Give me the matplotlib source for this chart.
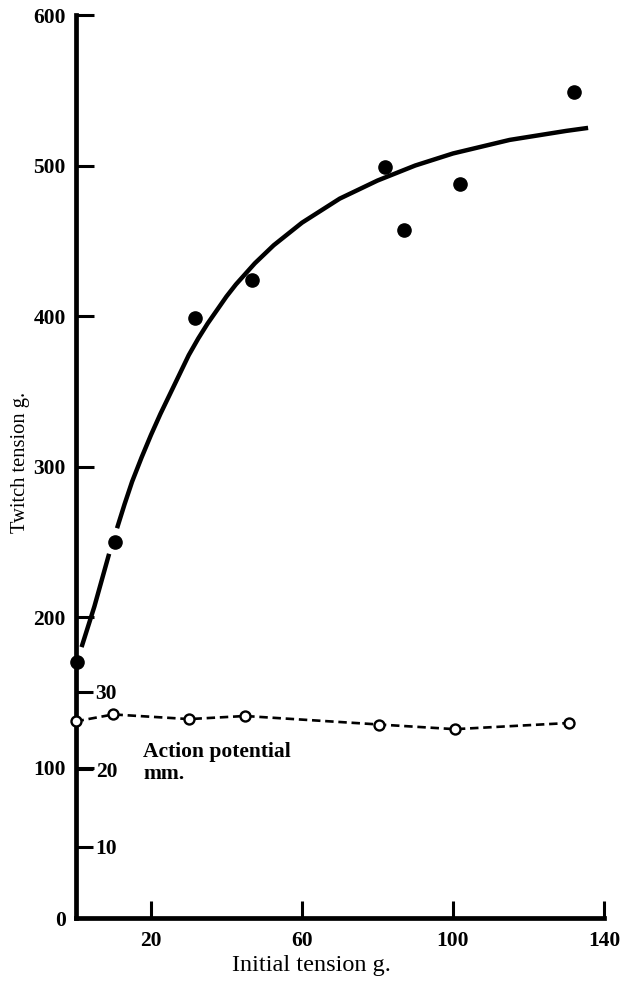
import matplotlib
matplotlib.use("Agg")
import matplotlib.pyplot as plt

plt.rcParams['font.family'] = ['Liberation Serif', 'DejaVu Serif']

# twitch tension (filled circles)
init_tension = [0.3, 10.5, 31.7, 46.8, 82.0, 87.0, 101.9, 132.1]
twitch = [170, 250, 399, 424, 499, 457, 488, 549]

# hand-drawn curve (broken round the point at 10 g)
curve_lo_x = [1.6, 5.0, 8.9]
curve_lo_y = [180, 207, 242]
curve_hi_x = [11.0, 13, 15, 17.5, 20, 22.5, 25, 27.5, 30, 32.5, 35, 37.5,
              40, 42.5, 45, 47.5, 50, 52.5, 55, 57.5, 60, 62.5, 65, 67.5,
              70, 72.5, 75, 80, 85, 90, 95, 100, 105, 110, 115, 120, 125,
              130, 135.8]
curve_hi_y = [259, 275, 290, 306, 321, 335, 348, 361, 374, 385, 395, 404,
              413, 421, 428, 435, 441, 447, 452, 457, 462, 466, 470, 474,
              478, 481, 484, 490, 495, 500, 504, 508, 511, 514, 517, 519,
              521, 523, 525]

# action potential (open circles), mm
ap_x = [0.0, 10.0, 30.1, 44.9, 80.5, 100.5, 130.8]
ap_mm = [26.2, 27.1, 26.5, 26.9, 25.8, 25.2, 26.0]

x_ticks = [20, 60, 100, 140]
y_ticks = [0, 100, 200, 300, 400, 500, 600]
mm_ticks = [10, 20, 30]


def mm_to_g(mm):
    return (mm - 20) * 5.15 + 98.7


def g_to_mm(g):
    return (g - 98.7) / 5.15 + 20


fig = plt.figure(figsize=(6.22, 9.81), dpi=100)
ax = fig.add_axes([0.1214, 0.0642, 0.8496, 0.9205])

ax.plot(curve_lo_x, curve_lo_y, color='black', lw=3.2, solid_capstyle='butt')
ax.plot(curve_hi_x, curve_hi_y, color='black', lw=3.2,
        solid_capstyle='butt', solid_joinstyle='round')
ax.plot(init_tension, twitch, 'o', color='black', ms=9.5, clip_on=False,
        zorder=5)

ax.plot(ap_x, [mm_to_g(v) for v in ap_mm], color='black', lw=1.9,
        dashes=(3.2, 1.8), marker='o', ms=7.2, mfc='white', mec='black',
        mew=1.7, clip_on=False, zorder=6)

ax.text(18, 117, 'Action potential\nmm.', fontsize=15.5, fontweight='bold',
        ha='left', va='top', linespacing=1.15)

ax.set_xlim(0, 140)
ax.set_ylim(0, 600)
ax.set_xticks(x_ticks)
ax.set_yticks(y_ticks)
for s in ['top', 'right']:
    ax.spines[s].set_visible(False)
for s in ['left', 'bottom']:
    ax.spines[s].set_linewidth(3.4)
    ax.spines[s].set_capstyle('projecting')
ax.tick_params(axis='y', direction='in', length=13, width=2.2, pad=7,
               labelsize=15.5)
ax.tick_params(axis='x', direction='in', length=12, width=2.2, pad=9,
               labelsize=15.5)
for lab in ax.get_xticklabels() + ax.get_yticklabels():
    lab.set_fontweight('bold')

sec = ax.secondary_yaxis(0.0, functions=(g_to_mm, mm_to_g))
sec.set_alignment('right')
sec.spines['right'].set_visible(False)
sec.set_yticks(mm_ticks)
sec.tick_params(axis='y', direction='out', length=12, width=2.2, pad=2.5,
                labelsize=15.5)
for lab in sec.get_yticklabels():
    lab.set_fontweight('bold')

ax.set_xlabel('Initial tension g.', fontsize=17.5)
ax.xaxis.set_label_coords(0.4456, -0.041)
ax.set_ylabel('Twitch tension g.', fontsize=14.8)
ax.yaxis.set_label_coords(-0.086, 0.505)

fig.savefig('out.png', dpi=100)
